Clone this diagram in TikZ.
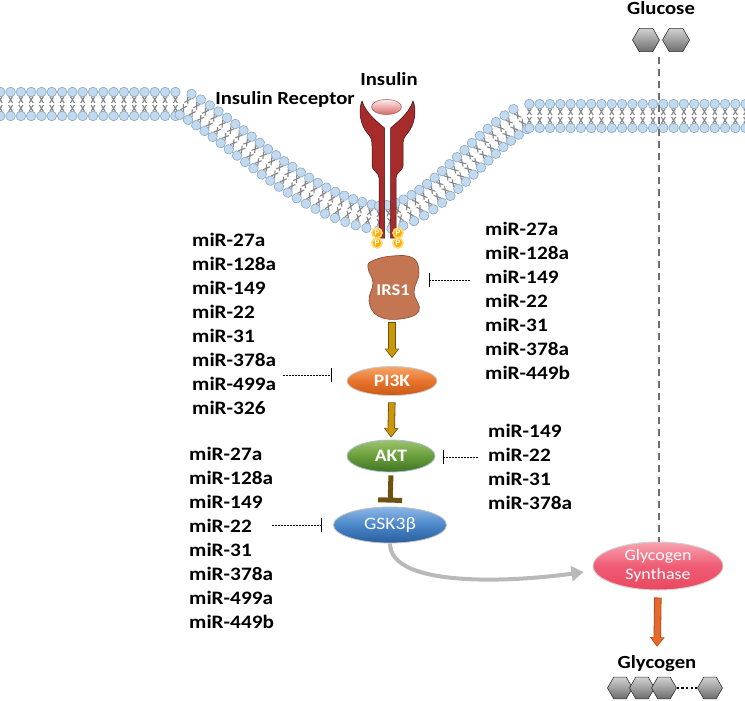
\documentclass[tikz,border=0pt]{standalone}
\usepackage{fontspec}
\setmainfont{Carlito}[FakeStretch=1.12]
\usetikzlibrary{arrows.meta,decorations.markings,shapes.geometric}
\definecolor{headfill}{HTML}{C2DAEF}
\definecolor{headline}{HTML}{8CA6C0}
\definecolor{tailcol}{HTML}{858585}
\definecolor{recred}{HTML}{A82B2B}
\definecolor{recedge}{HTML}{3A1010}
\definecolor{irsfill}{HTML}{C47552}
\definecolor{irsedge}{HTML}{8C4A2E}
\definecolor{goldarr}{HTML}{C9960C}
\definecolor{goldedge}{HTML}{6E5208}
\definecolor{tbrown}{HTML}{6E5212}
\definecolor{orarr}{HTML}{E8692E}
\definecolor{orarredge}{HTML}{B04A18}
\definecolor{gstop}{HTML}{F7A3B0}
\definecolor{gsmid}{HTML}{EF5C74}
\definecolor{gsbot}{HTML}{E9485F}
\definecolor{pitop}{HTML}{F5A66A}
\definecolor{pimid}{HTML}{E8742C}
\definecolor{pibot}{HTML}{C95A16}
\definecolor{aktop}{HTML}{9DC46E}
\definecolor{akmid}{HTML}{6A9E3A}
\definecolor{akbot}{HTML}{3F7424}
\definecolor{aked}{HTML}{A9BCD6}
\definecolor{gktop}{HTML}{8DB8E6}
\definecolor{gkmid}{HTML}{4A86C8}
\definecolor{gkbot}{HTML}{2A5E9E}
\definecolor{dashgray}{HTML}{6E6E6E}
\begin{document}
\begin{tikzpicture}[x=1pt,y=-1pt,
  mir/.style={font=\fontsize{19}{24}\selectfont\bfseries, align=left, inner sep=0pt, anchor=west},
  lbl/.style={font=\fontsize{18.5}{20}\selectfont\bfseries, inner sep=0pt, anchor=base},
  inh/.style={draw=black, line width=0.7pt, dash pattern=on 2pt off 1pt, -{Bar[width=14pt,line width=0.8pt]}},
  enz/.style={ellipse, inner sep=0pt, text=white, line width=0.8pt},
  hexa/.style={regular polygon, regular polygon sides=6, inner sep=0pt, minimum size=25pt,
     top color=gray!35, bottom color=gray!85!black, draw=gray!40!black, line width=0.6pt},
  phos/.style={circle, inner sep=0pt, minimum size=10pt, fill=orange!65!yellow, draw=yellow!55!orange!55, line width=1.6pt,
     text=white, font=\fontsize{8.5}{8.5}\selectfont\bfseries},
  lipid/.style={decorate, decoration={markings, mark=between positions 0 and 1 step 10.3pt with {
     \draw[tailcol, line width=1.1pt] (-2pt,7.5pt) -- (2pt,1pt) (2pt,7.5pt) -- (-2pt,1pt)
        (-2pt,-7.5pt) -- (2pt,-1pt) (2pt,-7.5pt) -- (-2pt,-1pt);
     \draw[headline, line width=0.6pt, fill=headfill] (0pt,12pt) circle (4.8pt);
     \draw[headline, line width=0.6pt, fill=headfill] (0pt,-12pt) circle (4.8pt);
  }}}
]
\useasboundingbox (0,0) rectangle (745,701);
\fill[white] (0,0) rectangle (745,701);

% membrane
\path[lipid] (-10,104) -- (185,104) .. controls (240,135) and (300,205) .. (378,218)
   .. controls (430,218) and (470,150) .. (525,116) -- (760,116);

% receptor
\filldraw[recred, draw=recedge, line width=0.5pt]
  (384.5,238) -- (384.5,128) .. controls (380,124) and (366,114) .. (362,101)
  .. controls (358,110) and (360,125) .. (368,134) .. controls (371,137) and (372,140) .. (372,146)
  -- (372,166) .. controls (372,171) and (379,172) .. (379,178) -- (379,238) -- cycle;
\filldraw[recred, draw=recedge, line width=0.5pt]
  (390.5,238) -- (390.5,128) .. controls (395,124) and (409,114) .. (413,101)
  .. controls (417,110) and (415,125) .. (407,134) .. controls (404,137) and (403,140) .. (403,146)
  -- (403,166) .. controls (403,171) and (396,172) .. (396,178) -- (396,238) -- cycle;
\node[ellipse, minimum width=30pt, minimum height=15pt, inner sep=0pt, top color=white!70!pink, bottom color=red!35!pink!85!black, draw=red!30!gray, line width=0.5pt] (insulin) at (386.5,107) {};

\node[phos] (p1) at (377,233) {P};
\node[phos] (p2) at (377,243) {P};
\node[phos] (p3) at (398,233) {P};
\node[phos] (p4) at (398,243) {P};

\node[lbl] (tinsulin) at (389,85) {Insulin};
\node[lbl] (treceptor) at (285,104.3) {Insulin Receptor};

% glucose
\node[lbl] (tglucose) at (661,15) {Glucose};
\node[hexa, minimum size=27pt] (gl1) at (646,40) {};
\node[hexa, minimum size=27pt] (gl2) at (676,40) {};

% IRS1 blob
\filldraw[fill=irsfill, draw=irsedge, line width=0.6pt] plot[smooth cycle, tension=0.7] coordinates
  {(372,261) (392,256) (413,258) (419,273) (414,292) (419,311) (400,319) (378,316) (369,301) (373,283) (368,268)};
\node[text=white, inner sep=0pt, font=\fontsize{16.5}{18}\selectfont\bfseries] (irs1) at (393,290) {IRS1};

% enzymes
\node[enz, minimum width=90pt, minimum height=29pt, top color=pitop, bottom color=pibot, middle color=pimid, draw=gray!40, font=\fontsize{17.5}{20}\selectfont\bfseries] (pi3k) at (392,381) {PI3K};
\node[enz, minimum width=88pt, minimum height=32pt, top color=aktop, bottom color=akbot, middle color=akmid, draw=aked, font=\fontsize{17.5}{20}\selectfont\bfseries] (akt) at (391,456) {AKT};
\node[enz, minimum width=113pt, minimum height=36pt, top color=gktop, bottom color=gkbot, middle color=gkmid, draw=gray!50, font=\fontsize{17.5}{20}\selectfont] (gsk) at (390,525) {GSK3β};
\node[enz, minimum width=130pt, minimum height=48pt, top color=gstop, bottom color=gsbot, middle color=gsmid, draw=gray!35, line width=1pt, align=center, font=\fontsize{16}{19}\selectfont] (gs) at (658,566) {Glycogen\\Synthase};

% pathway arrows
\coordinate (a1s) at (392,322);
\draw[goldedge, line width=7.4pt, -{Triangle[width=14pt,length=9.5pt]}, shorten >=8pt] (a1s) -- (a1s |- pi3k.north);
\draw[goldarr, line width=5.8pt, -{Triangle[width=11.5pt,length=7.8pt]}, shorten <=0.8pt, shorten >=9.3pt] (a1s) -- (a1s |- pi3k.north);
\draw[goldedge, line width=7.4pt, -{Triangle[width=14pt,length=9.5pt]}, shorten <=6.5pt, shorten >=2pt] (pi3k.south) -- (akt.north);
\draw[goldarr, line width=5.8pt, -{Triangle[width=11.5pt,length=7.8pt]}, shorten <=7.3pt, shorten >=3.3pt] (pi3k.south) -- (akt.north);
\draw[tbrown, line width=5pt, -{Bar[width=24pt,line width=5pt]}, shorten <=3pt, shorten >=4pt] (akt.south) -- (gsk.north);

\draw[gray!55, line width=4pt, -{Triangle[width=15pt,length=12pt]}] (gsk.south) .. controls +(0,45) and +(-70,10) .. ([xshift=-9pt,yshift=-6pt]gs.west);

\node[lbl] (tglycogen) at (657,668) {Glycogen};
\draw[orarredge, line width=7.4pt, -{Triangle[width=14pt,length=9.5pt]}, shorten <=7pt, shorten >=8pt] (gs.south) -- (tglycogen.north);
\draw[orarr, line width=5.8pt, -{Triangle[width=11.5pt,length=7.8pt]}, shorten <=7.8pt, shorten >=9.3pt] (gs.south) -- (tglycogen.north);

% glucose dashed line
\draw[dashgray, line width=1.6pt, dash pattern=on 7pt off 5pt] ([yshift=-5pt]gl1.south -| 659,0) coordinate (gd) -- (gd |- gs.north);

% glycogen chain
\node[hexa, minimum size=25pt] (g1) at (620,688) {};
\node[hexa, minimum size=25pt] (g2) at (642,688) {};
\node[hexa, minimum size=25pt] (g3) at (664,688) {};
\node[hexa, minimum size=25pt] (g4) at (710,688) {};
\draw[black, line width=2.4pt, dash pattern=on 2.4pt off 2.2pt] (g3.east) -- (g4.west);

% miRNA lists
\node[mir] (listA) at (192,324) {miR-27a\\miR-128a\\miR-149\\miR-22\\miR-31\\miR-378a\\miR-499a\\miR-326};
\node[mir] (listB) at (485,300.5) {miR-27a\\miR-128a\\miR-149\\miR-22\\miR-31\\miR-378a\\miR-449b};
\node[mir] (listC) at (488,466.5) {miR-149\\miR-22\\miR-31\\miR-378a};
\node[mir] (listD) at (189,537.5) {miR-27a\\miR-128a\\miR-149\\miR-22\\miR-31\\miR-378a\\miR-499a\\miR-449b};

% inhibition lines
\coordinate (iB) at (470,280);
\coordinate (iBend) at (429,280);
\draw[inh] (iB) -- (iBend);
\coordinate (iA) at (283,375);
\draw[inh, shorten >=15pt] (iA) -- (iA -| pi3k.west);
\coordinate (iC) at (478,457);
\draw[inh, shorten >=8pt] (iC) -- (iC -| akt.east);
\coordinate (iD) at (272,525);
\draw[inh, shorten >=11pt] (iD) -- (gsk.west);
\end{tikzpicture}
\end{document}
